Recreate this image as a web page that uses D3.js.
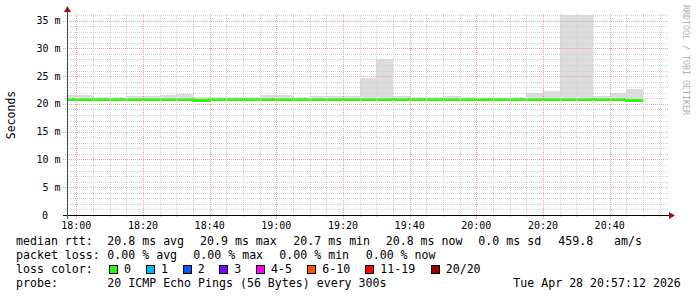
<!DOCTYPE html>
<html><head><meta charset="utf-8">
<script src="https://cdn.jsdelivr.net/npm/d3@7"></script>
<style>body{margin:0;background:#fff}svg{display:block}text{font-family:"DejaVu Sans Mono",monospace}</style>
</head><body>
<script>
// ---- data ----
const intervalStart = ["17:55","18:00","18:05","18:10","18:15","18:20","18:25","18:30","18:35","18:40",
  "18:45","18:50","18:55","19:00","19:05","19:10","19:15","19:20","19:25","19:30",
  "19:35","19:40","19:45","19:50","19:55","20:00","20:05","20:10","20:15","20:20",
  "20:25","20:30","20:35","20:40","20:45"];
const medianMs = [20.85,20.85,20.85,20.85,20.85,20.85,20.85,20.85,20.7,20.85,
  20.8,20.8,20.8,20.8,20.8,20.85,20.85,20.85,20.85,20.85,
  20.85,20.8,20.85,20.85,20.85,20.8,20.8,20.85,20.85,20.85,
  20.85,20.9,20.9,20.9,20.7];
const smokeLowMs = [20.65,20.65,20.65,20.65,20.65,20.65,20.65,20.65,20.55,20.65,
  20.6,20.6,20.6,20.6,20.6,20.65,20.65,20.65,20.65,20.65,
  20.65,20.6,20.65,20.65,20.65,20.6,20.6,20.65,20.65,20.65,
  20.65,20.7,20.7,20.7,20.55];
const smokeHighMs = [21.65,21.65,21.25,21.25,21.5,21.5,21.65,21.85,21.25,21.3,
  21.2,21.2,21.65,21.65,21.25,21.45,21.45,21.45,24.7,28.0,
  21.45,21.2,21.25,21.5,21.25,21.1,21.1,21.2,22.0,22.3,
  36.0,36.0,21.45,22.0,22.7];
const yTicks = [0,5,10,15,20,25,30,35];
const yTickLabels = ["0","5 m","10 m","15 m","20 m","25 m","30 m","35 m"];
const xTickLabels = ["18:00","18:20","18:40","19:00","19:20","19:40","20:00","20:20","20:40"];
const lossNames = ["0","1","2","3","4-5","6-10","11-19","20/20"];
const lossColors = ["#26ff00","#00b8ff","#0059ff","#7e00ff","#ff00ff","#ff5500","#ff0000","#a00000"];
const stats1 = ["median rtt:","20.8 ms avg","20.9 ms max","20.7 ms min","20.8 ms now","0.0 ms sd","459.8","am/s"];
const stats2 = ["packet loss:","0.00 % avg","0.00 % max","0.00 % min","0.00 % now"];
const probeLine = ["probe:","20 ICMP Echo Pings (56 Bytes) every 300s","Tue Apr 28 20:57:12 2026"];

// ---- layout ----
const W=697,H=297;
const L=67,R=667,T=14,B=215;
const parse = s => { const [h,m]=s.split(":").map(Number); return new Date(2026,3,28,h,m,0); };
const t0 = new Date(2026,3,28,17,57,12), t1 = new Date(2026,3,28,20,57,12);
const x = d3.scaleTime().domain([t0,t1]).range([L,R]);
const y = d3.scaleLinear().domain([0,36.17]).range([B,T]);

const svg = d3.select("body").append("svg").attr("width",W).attr("height",H);
svg.append("rect").attr("width",W).attr("height",H).attr("fill","#fff");
svg.append("defs").append("clipPath").attr("id","pc").append("rect")
  .attr("x",L+1).attr("y",T-2).attr("width",R-L).attr("height",B-T+2);

const data = intervalStart.map((s,i)=>({t:parse(s), med:medianMs[i], lo:smokeLowMs[i], hi:smokeHighMs[i]}));
const step = 5*60*1000;

// smoke
const g = svg.append("g").attr("clip-path","url(#pc)");
g.selectAll("rect.smoke").data(data).join("rect").attr("class","smoke")
  .attr("x",d=>x(d.t)).attr("width",d=>x(new Date(+d.t+step))-x(d.t))
  .attr("y",d=>y(d.hi)).attr("height",d=>y(d.lo)-y(d.hi))
  .attr("fill","#dddddd").attr("shape-rendering","crispEdges");

// grid
const grid = svg.append("g").attr("shape-rendering","crispEdges");
const minorY = d3.range(0,37,1);
minorY.forEach(v=>{
  const yy = Math.round(y(v))+0.5; const major = v%5===0;
  if(v===0) return;
  grid.append("line").attr("x1",major?L-4:L-2).attr("x2",R+2).attr("y1",yy).attr("y2",yy)
    .attr("stroke",major?"#eaa4a4":"#d2d2d2").attr("stroke-width",1).attr("stroke-dasharray","1,1");
});
const minorX = d3.timeMinute.every(5).range(t0,t1);
minorX.forEach(t=>{
  const xx = Math.round(x(t))+0.5; const major = t.getMinutes()%20===0;
  grid.append("line").attr("x1",xx).attr("x2",xx).attr("y1",T).attr("y2",major?B+4:B+2)
    .attr("stroke",major?"#eaa4a4":"#d2d2d2").attr("stroke-width",1).attr("stroke-dasharray","1,1");
});

// median line
const pts = data.map(d=>[d.t,d.med]);
pts.push([new Date(+data[data.length-1].t+step), data[data.length-1].med]);
g.append("path").datum(pts)
  .attr("d", d3.line().x(d=>x(d[0])).y(d=>Math.round(y(d[1]))+0.5).curve(d3.curveStepAfter))
  .attr("fill","none").attr("stroke",lossColors[0]).attr("stroke-width",3)
  .attr("shape-rendering","crispEdges");

// axes
const ax = svg.append("g").attr("shape-rendering","crispEdges");
ax.append("line").attr("x1",L-4).attr("x2",R+2).attr("y1",B+0.5).attr("y2",B+0.5).attr("stroke","#000");
ax.append("line").attr("x1",L+0.5).attr("x2",L+0.5).attr("y1",B+4).attr("y2",T-4).attr("stroke","#444");
svg.append("path").attr("d",`M${R+2},${B-3} L${R+8},${B+0.5} L${R+2},${B+4} Z`).attr("fill","#a01010");
svg.append("path").attr("d",`M${L-3},${T-2} L${L+0.5},${T-8} L${L+4},${T-2} Z`).attr("fill","#a01010");

// tick labels
svg.append("g").selectAll("text").data(yTicks).join("text")
  .attr("x",(d,i)=>i===0?48:60.5).attr("y",d=>y(d)+3.6).attr("text-anchor","end")
  .attr("font-size","10px").attr("fill","#000").text((d,i)=>yTickLabels[i]);
const xt = d3.timeMinute.every(20).range(t0,t1);
svg.append("g").selectAll("text").data(xt).join("text")
  .attr("x",d=>x(d)).attr("y",228.5).attr("text-anchor","middle")
  .attr("font-size","10px").attr("fill","#000").text((d,i)=>xTickLabels[i]);

svg.append("text").attr("transform","translate(15,115) rotate(-90)").attr("text-anchor","middle")
  .attr("font-size","11.5px").attr("fill","#000").text("Seconds");
svg.append("text").attr("transform","translate(683,5) rotate(90)").attr("text-anchor","start")
  .attr("font-size","8.3px").attr("fill","#b0b0b0").text("RRDTOOL / TOBI OETIKER");

// legend
const fs = "11.6px";
const l1x = [16,107.3,200,293.3,385.7,478.3,558.3,614];
stats1.forEach((s,i)=>svg.append("text").attr("x",l1x[i]).attr("y",245).attr("font-size",fs).attr("fill","#000").text(s));
const l2x = [16,107.3,193.3,279.3,365.7];
stats2.forEach((s,i)=>svg.append("text").attr("x",l2x[i]).attr("y",259).attr("font-size",fs).attr("fill","#000").text(s));
svg.append("text").attr("x",16).attr("y",273).attr("font-size",fs).attr("fill","#000").text("loss color:");
const boxX = [109,146,182.7,219.3,256,307.3,365.3,430.7];
lossNames.forEach((n,i)=>{
  svg.append("rect").attr("x",Math.round(boxX[i])+0.5).attr("y",265.5).attr("width",8).attr("height",8)
    .attr("fill",lossColors[i]).attr("stroke","#000").attr("stroke-width",1);
  svg.append("text").attr("x",boxX[i]+15).attr("y",273).attr("font-size",fs).attr("fill","#000").text(n);
});
const l4x = [16,107.3,513.3];
probeLine.forEach((s,i)=>svg.append("text").attr("x",l4x[i]).attr("y",287).attr("font-size",fs).attr("fill","#000").text(s));
</script>
</body></html>
